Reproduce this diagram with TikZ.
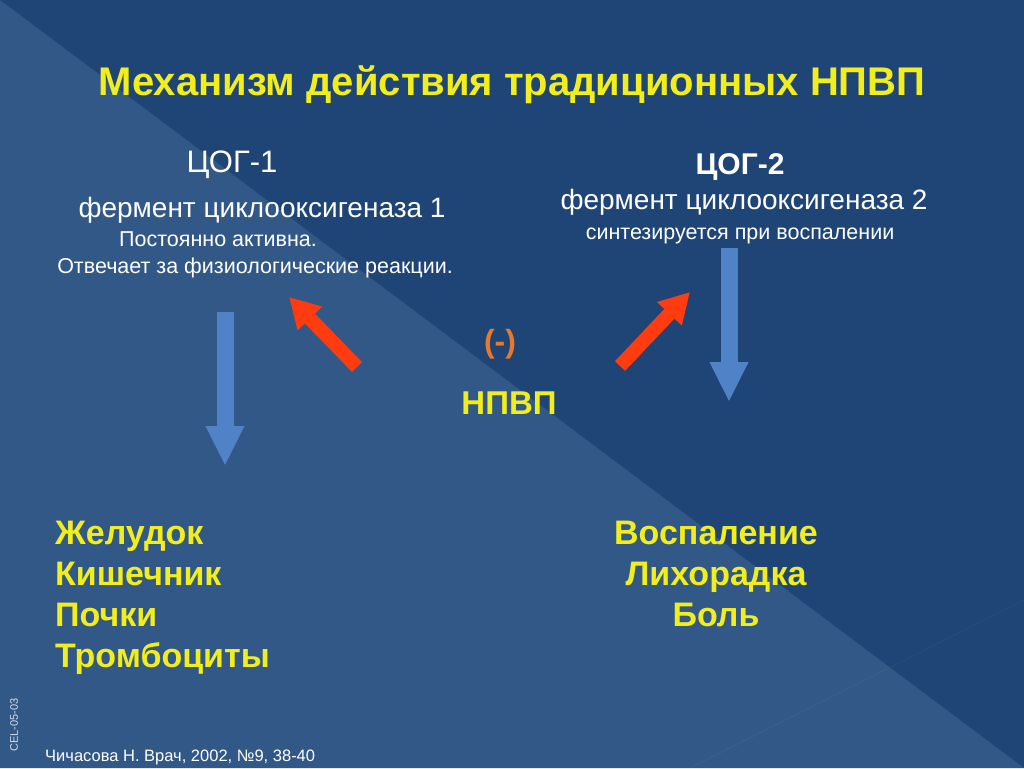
\documentclass[tikz,border=0pt]{standalone}
\usepackage{fontspec}
\setmainfont{Liberation Sans}
\usetikzlibrary{arrows.meta}
\definecolor{bgdark}{HTML}{1F4476}
\definecolor{bglight}{HTML}{315886}
\definecolor{ttl}{HTML}{F2EE1E}
\definecolor{blarrow}{HTML}{4F82C6}
\definecolor{rdarrow}{HTML}{FF3C10}
\definecolor{orng}{HTML}{E8782A}
\begin{document}
\begin{tikzpicture}[x=1pt,y=-1pt,
  wt/.style={text=white,inner sep=0pt,anchor=base},
  blue arrow/.style={draw=blarrow,line width=17pt,-{Triangle[width=36pt,length=40pt]}},
  red arrow/.style={draw=rdarrow,line width=14pt,-{Triangle[width=32pt,length=30pt]}}]
\useasboundingbox (0,0) rectangle (1024,768);
\fill[bgdark] (0,0) rectangle (1024,768);
\fill[bglight] (0,0) -- (1024,768) -- (0,768) -- cycle;
\draw[white,opacity=0.04,line width=1pt] (690,768) -- (1024,600);
\node[text=ttl,font=\bfseries\fontsize{40}{46}\selectfont,inner sep=0pt,anchor=base] (title) at (512,95) {Механизм действия традиционных НПВП};
\node[wt,font=\fontsize{31}{36}\selectfont] (c1) at (232,172) {ЦОГ-1};
\node[wt,font=\fontsize{28}{33}\selectfont] (f1) at (262,217) {фермент циклооксигеназа 1};
\node[wt,font=\fontsize{21.5}{26}\selectfont] (p1) at (218,246) {Постоянно активна.};
\node[wt,font=\fontsize{21.5}{26}\selectfont] (o1) at (255,273) {Отвечает за физиологические реакции.};
\node[wt,font=\bfseries\fontsize{30}{36}\selectfont] (c2) at (740,174) {ЦОГ-2};
\node[wt,font=\fontsize{28}{33}\selectfont] (f2) at (744,209) {фермент циклооксигеназа 2};
\node[wt,font=\fontsize{21.5}{26}\selectfont] (s2) at (740,239) {синтезируется при воспалении};
\node[text=orng,font=\bfseries\fontsize{32}{38}\selectfont,inner sep=0pt,anchor=base] (minus) at (500,352) {(-)};
\node[text=ttl,font=\bfseries\fontsize{33}{38}\selectfont,inner sep=0pt,anchor=base] (nsaid) at (509,414) {НПВП};
\coordinate (l1) at (225,312); \coordinate (l2) at (225,466);
\coordinate (r1) at (729,248); \coordinate (r2) at (729,402);
\draw[blue arrow] (l1) -- (l2);
\draw[blue arrow] (r1) -- (r2);
\coordinate (ra1) at (357,367); \coordinate (ra2) at (289,297);
\coordinate (rb1) at (620,366); \coordinate (rb2) at (690,292);
\draw[red arrow] (ra1) -- (ra2);
\draw[red arrow] (rb1) -- (rb2);
\node[text=ttl,font=\bfseries\fontsize{34}{41}\selectfont,inner sep=0pt,anchor=north west,align=left] (list1) at (55,521) {Желудок\\Кишечник\\Почки\\Тромбоциты};
\node[text=ttl,font=\bfseries\fontsize{34}{41}\selectfont,inner sep=0pt,anchor=north,align=center] (list2) at (716,521) {Воспаление\\Лихорадка\\Боль};
\node[text=white,font=\fontsize{16.5}{19}\selectfont,inner sep=0pt,anchor=base west] (ref) at (45,761) {Чичасова Н. Врач, 2002, №9, 38-40};
\node[text=white,opacity=0.8,font=\fontsize{11}{13}\selectfont,inner sep=0pt,rotate=90] (cel) at (14,725) {CEL-05-03};
\end{tikzpicture}
\end{document}
